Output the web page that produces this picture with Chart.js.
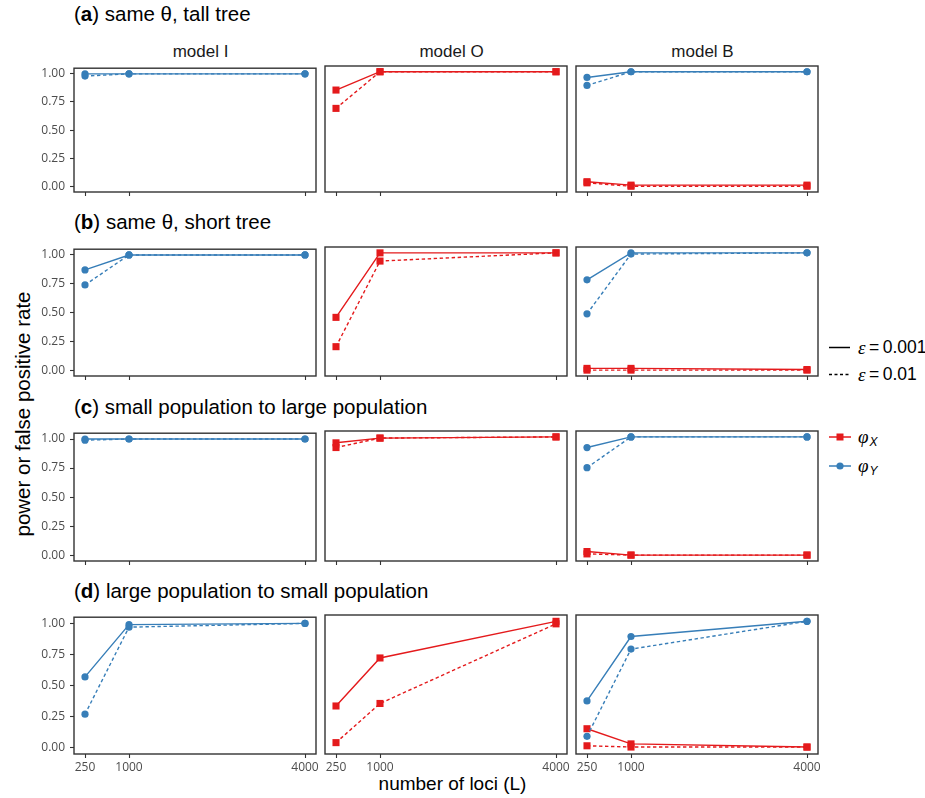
<!DOCTYPE html>
<html>
<head>
<meta charset="utf-8">
<script src="https://cdn.jsdelivr.net/npm/chart.js@4.4.1/dist/chart.umd.min.js"></script>
<style>
  html, body { margin: 0; padding: 0; background: #fff; }
  #wrap { position: relative; width: 925px; height: 798px; overflow: hidden; font-family: "Liberation Sans", Arial, sans-serif; color: #000; }
  canvas { position: absolute; }
  .rowTitle { position: absolute; left: 74px; font-size: 20.5px; line-height: 20px; white-space: nowrap; }
  .strip { position: absolute; width: 242px; text-align: center; font-size: 17px; line-height: 17px; color: #1a1a1a; white-space: nowrap; }
  .axTitle { position: absolute; font-size: 19px; line-height: 20px; white-space: nowrap; text-align: center; }
  .legText { position: absolute; left: 858px; height: 20px; display: flex; align-items: center; font-size: 17.5px; white-space: nowrap; }
  .gr { font-family: "Liberation Serif", "DejaVu Serif", serif; font-style: italic; font-size: 19px; }
  .sub { font-style: italic; font-size: 12px; position: relative; top: 5px; margin-left: 1px; }
</style>
</head>
<body>
<div id="wrap">
  <div class="rowTitle" style="top:4px">(<b>a</b>) same θ, tall tree</div>
  <div class="rowTitle" style="top:211.5px">(<b>b</b>) same θ, short tree</div>
  <div class="rowTitle" style="top:396.5px">(<b>c</b>) small population to large population</div>
  <div class="rowTitle" style="top:580.5px">(<b>d</b>) large population to small population</div>
  <div id="strips"></div>
  <div class="axTitle" style="left:-177px; top:404px; width:400px; font-size:20.5px; transform: rotate(-90deg);">power or false positive rate</div>
  <div class="axTitle" style="left:252.5px; top:774px; width:400px;">number of loci (L)</div>
  <svg width="925" height="798" style="position:absolute;left:0;top:0;pointer-events:none">
    <line x1="829" y1="347.5" x2="850" y2="347.5" stroke="#000" stroke-width="1.5"/>
    <line x1="829" y1="374.5" x2="850" y2="374.5" stroke="#000" stroke-width="1.5" stroke-dasharray="3 2.5"/>
    <line x1="829" y1="437" x2="851" y2="437" stroke="#E41A1C" stroke-width="1.5"/>
    <rect x="836.5" y="433.5" width="7" height="7" fill="#E41A1C"/>
    <line x1="829" y1="466" x2="851" y2="466" stroke="#377EB8" stroke-width="1.5"/>
    <circle cx="840" cy="466" r="3.6" fill="#377EB8"/>
  </svg>
  <div class="legText" style="top:337.5px"><span class="gr">ε</span>&#8201;=&#8201;0.001</div>
  <div class="legText" style="top:364.5px"><span class="gr">ε</span>&#8201;=&#8201;0.01</div>
  <div class="legText" style="top:427px"><span class="gr">φ</span><span class="sub">X</span></div>
  <div class="legText" style="top:456px"><span class="gr">φ</span><span class="sub">Y</span></div>
</div>
<script>
// ---------- data ----------
const lociValues = [250, 1000, 4000];
const yTickValues = [0, 0.25, 0.5, 0.75, 1];
const rowTitles = ["same θ, tall tree", "same θ, short tree", "small population to large population", "large population to small population"];
const modelNames = ["model I", "model O", "model B"];

// eps001 = ε=0.001 (solid), eps01 = ε=0.01 (dashed); X = φX (red), Y = φY (blue)
// (a) same θ, tall tree
const aI_Y_eps001 = [1.00, 1.00, 1.00];
const aI_Y_eps01  = [0.98, 1.00, 1.00];
const aO_X_eps001 = [0.84, 1.00, 1.00];
const aO_X_eps01  = [0.68, 1.00, 1.00];
const aB_X_eps001 = [0.04, 0.01, 0.01];
const aB_X_eps01  = [0.03, 0.00, 0.00];
const aB_Y_eps001 = [0.95, 1.00, 1.00];
const aB_Y_eps01  = [0.88, 1.00, 1.00];
// (b) same θ, short tree
const bI_Y_eps001 = [0.87, 1.00, 1.00];
const bI_Y_eps01  = [0.74, 1.00, 1.00];
const bO_X_eps001 = [0.45, 1.00, 1.00];
const bO_X_eps01  = [0.20, 0.93, 1.00];
const bB_X_eps001 = [0.015, 0.015, 0.005];
const bB_X_eps01  = [0.00, 0.00, 0.00];
const bB_Y_eps001 = [0.77, 1.00, 1.00];
const bB_Y_eps01  = [0.48, 0.99, 1.00];
// (c) small population to large population
const cI_Y_eps001 = [1.00, 1.00, 1.00];
const cI_Y_eps01  = [0.99, 1.00, 1.00];
const cO_X_eps001 = [0.95, 0.99, 1.00];
const cO_X_eps01  = [0.91, 0.99, 1.00];
const cB_X_eps001 = [0.03, 0.00, 0.00];
const cB_X_eps01  = [0.01, 0.00, 0.00];
const cB_Y_eps001 = [0.91, 1.00, 1.00];
const cB_Y_eps01  = [0.74, 1.00, 1.00];
// (d) large population to small population
const dI_Y_eps001 = [0.57, 0.99, 1.00];
const dI_Y_eps01  = [0.27, 0.97, 1.00];
const dO_X_eps001 = [0.33, 0.71, 1.00];
const dO_X_eps01  = [0.04, 0.35, 0.98];
const dB_X_eps001 = [0.15, 0.03, 0.005];
const dB_X_eps01  = [0.015, 0.005, 0.005];
const dB_Y_eps001 = [0.37, 0.88, 1.00];
const dB_Y_eps01  = [0.09, 0.78, 1.00];

// ---------- layout / style ----------
const RED = "#E41A1C", BLUE = "#377EB8";
const colLefts = [74, 325, 576];
const panelW = 242;
const rowTops = [66, 247, 431, 615];
const rowHeights = [126, 129, 130, 139];
const PADL = 60, PADT = 10, PADR = 10, PADB = 30;

const panelSeries = [
  [ {Y:[aI_Y_eps001, aI_Y_eps01]}, {X:[aO_X_eps001, aO_X_eps01]}, {X:[aB_X_eps001, aB_X_eps01], Y:[aB_Y_eps001, aB_Y_eps01]} ],
  [ {Y:[bI_Y_eps001, bI_Y_eps01]}, {X:[bO_X_eps001, bO_X_eps01]}, {X:[bB_X_eps001, bB_X_eps01], Y:[bB_Y_eps001, bB_Y_eps01]} ],
  [ {Y:[cI_Y_eps001, cI_Y_eps01]}, {X:[cO_X_eps001, cO_X_eps01]}, {X:[cB_X_eps001, cB_X_eps01], Y:[cB_Y_eps001, cB_Y_eps01]} ],
  [ {Y:[dI_Y_eps001, dI_Y_eps01]}, {X:[dO_X_eps001, dO_X_eps01]}, {X:[dB_X_eps001, dB_X_eps01], Y:[dB_Y_eps001, dB_Y_eps01]} ]
];

Chart.defaults.font.family = "'Open Sans', 'Noto Sans', sans-serif";
Chart.defaults.font.size = 12;

const panelBorder = {
  id: 'panelBorder',
  afterDraw(chart) {
    const { ctx, chartArea: a } = chart;
    ctx.save();
    ctx.strokeStyle = '#333333';
    ctx.lineWidth = 1.4;
    ctx.strokeRect(a.left, a.top, a.right - a.left, a.bottom - a.top);
    ctx.restore();
  }
};

function makeDataset(values, color, isX, dashed) {
  return {
    data: lociValues.map((x, i) => ({ x: x, y: values[i] })),
    borderColor: color,
    backgroundColor: color,
    borderWidth: 1.4,
    borderDash: dashed ? [3.4, 2.6] : [],
    pointStyle: isX ? 'rect' : 'circle',
    pointRadius: isX ? 5 : 3.6,
    pointBorderWidth: 0,
    pointBackgroundColor: color,
    tension: 0,
    fill: false
  };
}

const wrap = document.getElementById('wrap');
const strips = document.getElementById('strips');
modelNames.forEach((m, c) => {
  const d = document.createElement('div');
  d.className = 'strip';
  d.style.left = (colLefts[c] + 5.5) + 'px';
  d.style.top = '43px';
  d.textContent = m;
  strips.appendChild(d);
});

for (let r = 0; r < 4; r++) {
  for (let c = 0; c < 3; c++) {
    const cv = document.createElement('canvas');
    const W = panelW + PADL + PADR, H = rowHeights[r] + PADT + PADB;
    cv.width = W; cv.height = H;
    cv.style.left = (colLefts[c] - PADL) + 'px';
    cv.style.top = (rowTops[r] - PADT) + 'px';
    cv.style.width = W + 'px'; cv.style.height = H + 'px';
    wrap.appendChild(cv);

    const s = panelSeries[r][c];
    const datasets = [];
    // dataset 0 is drawn on top in Chart.js
    if (s.Y) { datasets.push(makeDataset(s.Y[0], BLUE, false, false)); datasets.push(makeDataset(s.Y[1], BLUE, false, true)); }
    if (s.X) { datasets.push(makeDataset(s.X[0], RED, true, false)); datasets.push(makeDataset(s.X[1], RED, true, true)); }

    const showY = c === 0, showXLabels = r === 3;
    new Chart(cv, {
      type: 'line',
      data: { datasets },
      options: {
        responsive: false,
        animation: false,
        events: [],
        layout: { padding: { top: PADT, right: PADR, left: 0, bottom: 0 } },
        plugins: { legend: { display: false }, tooltip: { enabled: false } },
        scales: {
          x: {
            type: 'linear',
            min: 62.5, max: 4187.5,
            afterBuildTicks: (ax) => { ax.ticks = lociValues.map(v => ({ value: v })); },
            afterFit: (ax) => { ax.height = PADB; },
            border: { display: false },
            grid: { drawOnChartArea: false, drawTicks: true, tickLength: 4, tickColor: '#333333', tickWidth: 1.1 },
            ticks: { display: showXLabels, padding: 2, color: '#4D4D4D', autoSkip: false, maxRotation: 0, callback: (v) => String(v) }
          },
          y: {
            type: 'linear',
            min: -0.05, max: 1.05,
            afterBuildTicks: (ax) => { ax.ticks = yTickValues.map(v => ({ value: v })); },
            afterFit: (ax) => { ax.width = PADL; },
            border: { display: false },
            grid: { display: showY, drawOnChartArea: false, drawTicks: true, tickLength: 4, tickColor: '#333333', tickWidth: 1.1 },
            ticks: { display: showY, padding: 5, color: '#4D4D4D', autoSkip: false, callback: (v) => Number(v).toFixed(2) }
          }
        }
      },
      plugins: [panelBorder]
    });
  }
}
</script>
</body>
</html>
